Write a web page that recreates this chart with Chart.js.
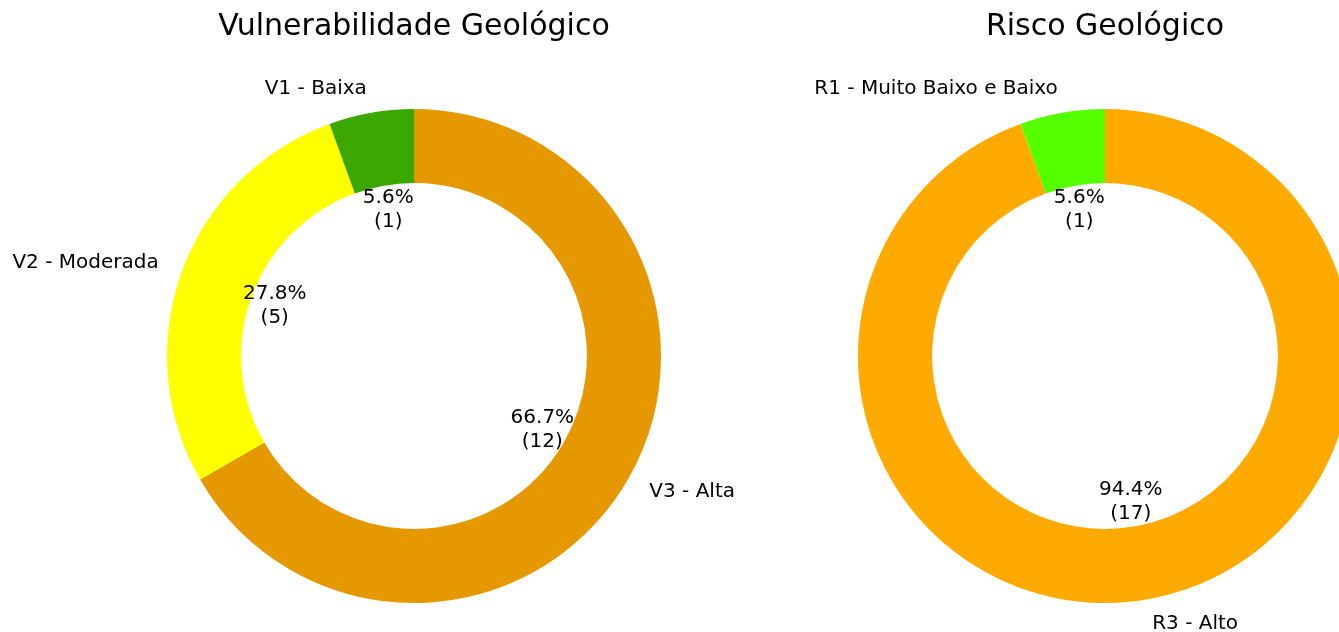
<!DOCTYPE html>
<html>
<head>
<meta charset="utf-8">
<script src="https://cdn.jsdelivr.net/npm/chart.js@4/dist/chart.umd.min.js"></script>
<style>
  html, body { margin: 0; padding: 0; background: #fff; overflow: hidden; }
  #wrap { position: relative; width: 1339px; height: 632px; overflow: hidden; }
  canvas { position: absolute; top: 0; }
  #vuln { left: 0; }
  #risco { left: 691px; }
</style>
</head>
<body>
<div id="wrap">
  <canvas id="vuln" width="828" height="632"></canvas>
  <canvas id="risco" width="828" height="632"></canvas>
</div>
<script>
// Pie data (matplotlib order: counter-clockwise from 12 o'clock)
const vulnTitle  = 'Vulnerabilidade Geológico';
const vulnLabels = ['V1 - Baixa', 'V2 - Moderada', 'V3 - Alta'];
const vulnCounts = [1, 5, 12];
const vulnColors = ['#3aa800', '#ffff00', '#e69800'];

const riscoTitle  = 'Risco Geológico';
const riscoLabels = ['R1 - Muito Baixo e Baixo', 'R3 - Alto'];
const riscoCounts = [1, 17];
const riscoColors = ['#55ff00', '#ffaa00'];

const FONT = "'DejaVu Sans', 'Liberation Sans', sans-serif";

// labels outside the ring + percentage/count inside, matplotlib style
const pieLabels = {
  id: 'pieLabels',
  afterDatasetsDraw(chart, args, opts) {
    const ctx  = chart.ctx;
    const meta = chart.getDatasetMeta(0);
    const ds   = chart.data.datasets[0];
    const total = ds.data.reduce((a, b) => a + b, 0);
    ctx.save();
    ctx.fillStyle = '#000';
    meta.data.forEach((arc, i) => {
      const p   = arc.getProps(['x', 'y', 'startAngle', 'endAngle', 'outerRadius']);
      const mid = (p.startAngle + p.endAngle) / 2;
      const cx = Math.cos(mid), cy = Math.sin(mid);

      // category label at 1.1 radius
      ctx.font = '20px ' + FONT;
      ctx.textBaseline = 'middle';
      ctx.textAlign = cx > 0 ? 'left' : 'right';
      ctx.fillText(chart.data.labels[i],
        p.x + cx * p.outerRadius * 1.1, p.y + cy * p.outerRadius * 1.1);

      // percentage + count at 0.6 radius
      const v   = ds.data[i];
      const pct = (v / total * 100).toFixed(1) + '%';
      const tx = p.x + cx * p.outerRadius * 0.6;
      const ty = p.y + cy * p.outerRadius * 0.6;
      ctx.textAlign = 'center';
      ctx.fillText(pct, tx, ty - 12);
      ctx.fillText('(' + v + ')', tx, ty + 12);
    });

    // title
    ctx.font = '30px ' + FONT;
    ctx.textAlign = 'center';
    ctx.textBaseline = 'middle';
    ctx.fillText(opts.title, meta.data[0].x, 27);
    ctx.restore();
  }
};

function makeDonut(id, title, labels, counts, colors) {
  // Chart.js draws clockwise, so reverse to get matplotlib's counter-clockwise order
  const rl = labels.slice().reverse();
  const rc = counts.slice().reverse();
  const rcol = colors.slice().reverse();
  return new Chart(document.getElementById(id).getContext('2d'), {
    type: 'doughnut',
    data: {
      labels: rl,
      datasets: [{
        data: rc,
        backgroundColor: rcol,
        borderWidth: 0,
        hoverOffset: 0,
      }],
    },
    options: {
      responsive: false,
      animation: false,
      cutout: '70%',
      rotation: 0,
      layout: { padding: { left: 167, right: 167, top: 109, bottom: 29 } },
      events: [],
      plugins: {
        legend: { display: false },
        tooltip: { enabled: false },
        pieLabels: { title },
      },
    },
    plugins: [pieLabels],
  });
}

makeDonut('vuln', vulnTitle, vulnLabels, vulnCounts, vulnColors);
makeDonut('risco', riscoTitle, riscoLabels, riscoCounts, riscoColors);
</script>
</body>
</html>
